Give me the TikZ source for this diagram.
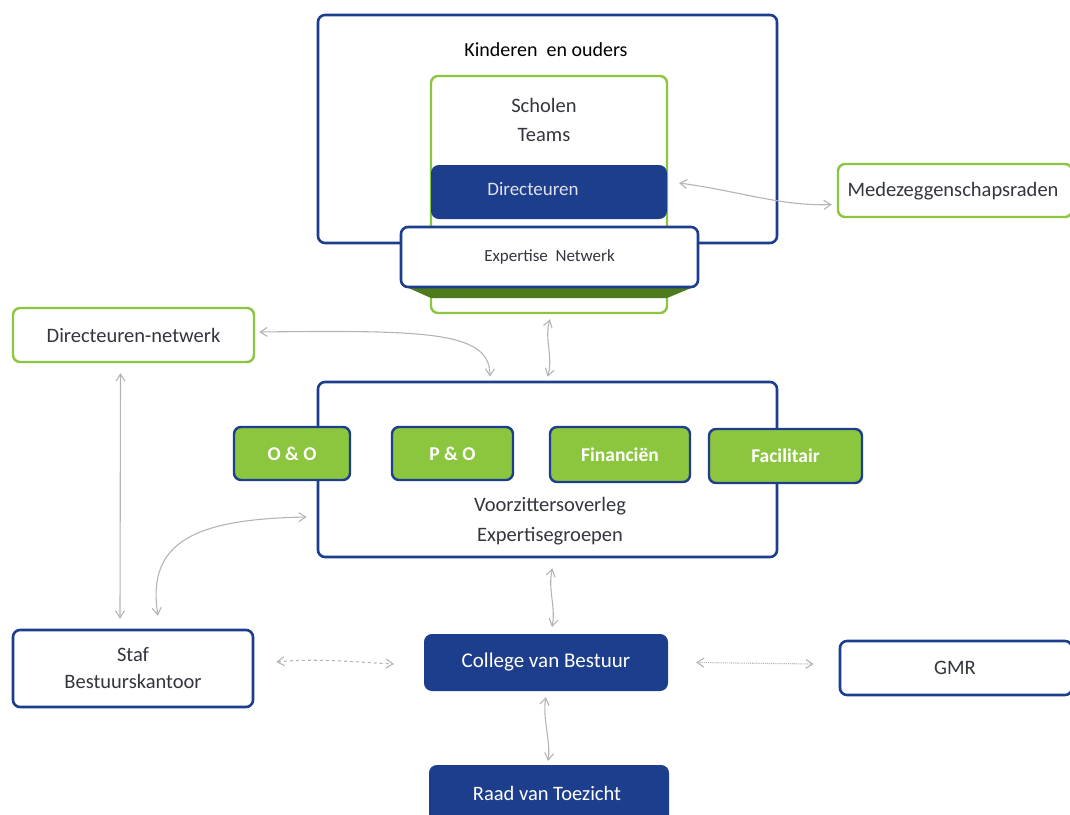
\documentclass[tikz,border=0pt]{standalone}
\usepackage{fontspec}
\setmainfont{Carlito}
\usetikzlibrary{arrows.meta,calc}
\definecolor{navy}{HTML}{1D3E8C}
\definecolor{lgreen}{HTML}{8CC63F}
\definecolor{dgreen}{HTML}{4E7A1E}
\definecolor{txt}{HTML}{33363D}
\definecolor{arr}{HTML}{B4B4B8}
\tikzset{
  box/.style={draw=navy, line width=2.6pt, rounded corners=7pt, fill=white, inner sep=0pt},
  gbox/.style={draw=lgreen, line width=2.4pt, rounded corners=7pt, fill=white, inner sep=0pt},
  nbox/.style={draw=navy, line width=2pt, rounded corners=7pt, fill=navy, inner sep=0pt, text=white},
  tab/.style={draw=navy, line width=2.4pt, rounded corners=7pt, fill=lgreen, inner sep=0pt, text=white, font=\fontsize{19.5}{22}\selectfont\bfseries},
  lbl/.style={text=txt, font=\fontsize{20.5}{24}\selectfont, align=center},
  conn/.style={draw=arr, line width=1.1pt, {Straight Barb[length=7pt,width=9pt]}-{Straight Barb[length=7pt,width=9pt]}}
}
\begin{document}
\begin{tikzpicture}[x=1pt,y=-1pt]
\useasboundingbox (0,0) rectangle (1070,814);
% top group
\node[box, minimum width=459pt, minimum height=228pt] (kind) at (547.5,129) {};
\node[lbl, text=black, font=\fontsize{20}{24}\selectfont] (kindt) at (546,50) {Kinderen\ \ en ouders};
\node[gbox, minimum width=236pt, minimum height=237pt] (sch) at (549,194.5) {};
\node[lbl] (scht) at (544,120) {Scholen\\[5pt]Teams};
\node[nbox, minimum width=234pt, minimum height=52pt] (dir) at (549,192) {};
\node[font=\fontsize{19}{22}\selectfont, text=white!85!navy] (dirt) at (533,189) {Directeuren};
\fill[dgreen] (404,286) -- (696,286) -- (667,298) -- (431,298) -- cycle;
\node[box, minimum width=297pt, minimum height=60pt, font=\fontsize{17}{20}\selectfont, text=txt] (exp) at (549.5,257) {Expertise\ \ Netwerk};
\node[gbox, minimum width=234pt, minimum height=53pt] (med) at (955,190.5) {};
\node[lbl] (medt) at (953,191) {Medezeggenschapsraden};
% left
\node[gbox, minimum width=241pt, minimum height=54pt, lbl] (dn) at (133.5,335) {Directeuren-netwerk};
\node[box, minimum width=240pt, minimum height=77pt, lbl] (staf) at (133,668.5) {Staf\\[3pt]Bestuurskantoor};
% middle
\node[box, minimum width=459pt, minimum height=175pt] (voor) at (547.5,469.5) {};
\node[lbl] (voort) at (550,521) {Voorzittersoverleg\\[6pt]Expertisegroepen};
\node[tab, minimum width=116pt, minimum height=53pt] (oo) at (292,453.5) {O \& O};
\node[tab, minimum width=121pt, minimum height=53pt] (po) at (452.5,453.5) {P \& O};
\node[tab, minimum width=140pt, minimum height=55pt] (fin) at (620,454.5) {Financiën};
\node[tab, minimum width=153pt, minimum height=54pt] (fac) at (785.5,456) {Facilitair};
% bottom
\node[nbox, minimum width=242pt, minimum height=55pt, font=\fontsize{21}{24}\selectfont] (col) at (546,662.5) {College van Bestuur};
\node[box, minimum width=232pt, minimum height=54pt, lbl] (gmrb) at (956,668) {};
\node[lbl] (gmr) at (955,668) {GMR};
\node[nbox, minimum width=238pt, minimum height=60pt] (raad) at (549,796) {};
\node[font=\fontsize{20.5}{24}\selectfont, text=white] (raadt) at (547,793) {Raad van Toezicht};
% connectors
\draw[conn] ($(dir.east)+(12,-9)$) .. controls +(60,8) and +(-50,2) .. ($(med.west)+(-5,14)$);
\draw[conn] ($(dn.east)+(4,-3)$) .. controls +(170,-2) and +(0,-45) .. ($(voor.north)+(-57.5,-4)$);
\draw[conn] ($(sch.south)+(1,5)$) .. controls +(-6,20) and +(6,-20) .. ($(voor.north)+(0,-4)$);
\draw[conn] ($(dn.south)+(-13,10)$) -- ($(staf.north)+(-13,-10)$);
\draw[conn] ($(staf.north)+(25,-13)$) .. controls +(-12,-75) and +(-110,2) .. ($(voor.west)+(-10,47.5)$);
\draw[conn, dashed] ($(staf.east)+(22,-6.5)$) .. controls +(40,-4) and +(-40,-2) .. ($(col.west)+(-30,1.5)$);
\draw[conn, densely dotted] ($(col.east)+(28,0)$) -- ($(gmrb.west)+(-25,-4)$);
\draw[conn] ($(voor.south)+(5,10)$) .. controls +(-5,20) and +(4,-20) .. ($(col.north)+(6,-7)$);
\draw[conn] ($(col.south)+(0,6)$) .. controls +(-4,20) and +(3,-20) .. ($(raad.north)+(-1,-4)$);
\end{tikzpicture}
\end{document}
